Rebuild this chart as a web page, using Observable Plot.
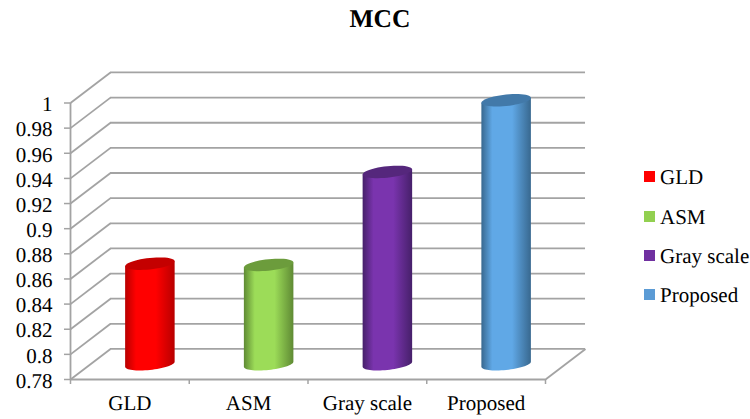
<!DOCTYPE html>
<html>
<head>
<meta charset="utf-8">
<script src="https://cdn.jsdelivr.net/npm/d3@7"></script>
<script src="https://cdn.jsdelivr.net/npm/@observablehq/plot@0.6"></script>
<style>
  html, body { margin: 0; padding: 0; background: #fff; }
  #page { position: relative; width: 750px; height: 419px; overflow: hidden; font-family: "Liberation Serif", serif; color: #000; text-rendering: geometricPrecision; }
  #page svg { position: absolute; left: 0; top: 0; text-rendering: geometricPrecision; }
  #title { position: absolute; left: 0; width: 760px; top: 5px; text-align: center; font-size: 25.5px; font-weight: bold; line-height: 28px; }
  .key { position: absolute; left: 644px; height: 20px; line-height: 20px; font-size: 21px; white-space: nowrap; }
  .key i { position: absolute; left: 0; top: 4px; width: 11px; height: 11px; }
  .key span { position: absolute; left: 16px; top: 0; }
</style>
</head>
<body>
<div id="page">
  <div id="title">MCC</div>
  <div id="chart"></div>
</div>
<script>
// Chart values
const categories = ["GLD", "ASM", "Gray scale", "Proposed"];
const mcc = [0.86, 0.859, 0.933, 0.99];
const yTicks = [0.78, 0.8, 0.82, 0.84, 0.86, 0.88, 0.9, 0.92, 0.94, 0.96, 0.98, 1];
const xEdges = [0, 1, 2, 3, 4];

// Colours: legend swatch, cylinder edge, cylinder centre, cylinder top
const swatch = ["#ff0000", "#92d050", "#7030a0", "#5b9bd5"];
const edge   = ["#b80000", "#5f8a34", "#46206a", "#38688f"];
const centre = ["#ff0000", "#9cdc58", "#7a34ae", "#60a8e6"];
const cap    = ["#c40000", "#6c9c3c", "#55277c", "#4279a9"];

// The 3D box's depth and the cylinder's ellipse, in data units
const depthX = 0.337, depthY = 0.0243;
const capA = 0.2085, capB = 0.00455, capTilt = 0.002;
const barFloor = depthY / 2;

const gridColor = "#a3a3a3";
const yMin = yTicks[0];
const serif = "'Liberation Serif', serif";

function ellipsePoint(cx, cy, t) {
  const c = Math.cos(t), s = Math.sin(t);
  return {x: cx + capA * c, y: cy + capTilt * c + capB * s};
}

function capOutline(cx, cy) {
  return d3.range(0, 49).map((k) => ellipsePoint(cx, cy, (k / 48) * 2 * Math.PI));
}

function bodyOutline(cx, top, bottom) {
  // Left edge down, lower arc of the base, right edge up
  const pts = [ellipsePoint(cx, top, Math.PI)];
  for (let k = 0; k <= 32; ++k) pts.push(ellipsePoint(cx, bottom, Math.PI + (k / 32) * Math.PI));
  pts.push(ellipsePoint(cx, top, 0));
  return pts;
}

// Cylinders stand in the middle of the floor's depth, so values are read from there
const cylinders = categories.flatMap((name, i) => {
  const cx = i + 0.5 + depthX / 2;
  const top = mcc[i] + barFloor;
  const bottom = yMin + barFloor;
  return [
    Plot.line(bodyOutline(cx, top, bottom), {x: "x", y: "y", fill: `url(#body${i})`, stroke: "none"}),
    Plot.line(capOutline(cx, top), {x: "x", y: "y", fill: cap[i], stroke: "none"})
  ];
});

// Horizontal gradients that give each cylinder its roundness
function gradients() {
  const defs = d3.create("svg:defs");
  categories.forEach((_, i) => {
    const g = defs.append("linearGradient").attr("id", `body${i}`)
      .attr("x1", 0).attr("x2", 1).attr("y1", 0).attr("y2", 0);
    [[0, edge[i]], [0.22, centre[i]], [0.62, centre[i]], [1, edge[i]]].forEach(([o, c]) =>
      g.append("stop").attr("offset", o).attr("stop-color", c));
  });
  return defs.node();
}

const chart = Plot.plot({
  width: 750,
  height: 419,
  marginLeft: 70,
  marginRight: 205,
  marginTop: 102.5,
  marginBottom: 40,
  style: {fontFamily: serif, background: "transparent", overflow: "visible"},
  x: {type: "linear", domain: [0, 4], axis: null},
  y: {type: "linear", domain: [yMin, 1], axis: null},
  marks: [
    gradients,
    // Back wall
    Plot.ruleY(yTicks, {y: (d) => d + depthY, x1: depthX, x2: 4 + depthX, stroke: gridColor, strokeWidth: 1.8}),
    // Side wall
    Plot.link(yTicks, {x1: 0, y1: (d) => d, x2: depthX, y2: (d) => d + depthY, stroke: gridColor, strokeWidth: 1.8}),
    // Floor edges
    Plot.ruleY([yMin], {x1: 0, x2: 4, stroke: gridColor, strokeWidth: 1.8}),
    Plot.link([yMin], {x1: 4, y1: (d) => d, x2: 4 + depthX, y2: (d) => d + depthY, stroke: gridColor, strokeWidth: 1.8}),
    // Value axis: tick marks, then the numbers set in the same serif as the rest
    Plot.ruleX([0], {y1: yMin, y2: 1, stroke: gridColor, strokeWidth: 1.8}),
    Plot.axisY({ticks: yTicks, tickSize: 6, stroke: gridColor, strokeWidth: 1.5, tickFormat: () => "", label: null}),
    Plot.text(yTicks, {x: 0, y: (d) => d, text: (d) => String(d), textAnchor: "end", dx: -18, dy: 1.5, fontSize: 21, fontFamily: serif, fill: "#000"}),
    // Category axis
    Plot.axisX({ticks: xEdges, tickSize: 5, stroke: gridColor, strokeWidth: 1.5, tickFormat: () => "", label: null}),
    Plot.text(categories, {x: (d, i) => i + 0.5, y: yMin, text: (d) => d, dy: 24, fontSize: 21, fontFamily: serif, fill: "#000"}),
    ...cylinders
  ]
});
document.getElementById("chart").appendChild(chart);

// Legend
const page = document.getElementById("page");
const keyTops = [167, 207, 246, 285];
categories.forEach((name, i) => {
  const row = document.createElement("div");
  row.className = "key";
  row.style.top = keyTops[i] + "px";
  const mark = document.createElement("i");
  mark.style.background = swatch[i];
  const label = document.createElement("span");
  label.textContent = name;
  row.append(mark, label);
  page.appendChild(row);
});
</script>
</body>
</html>
